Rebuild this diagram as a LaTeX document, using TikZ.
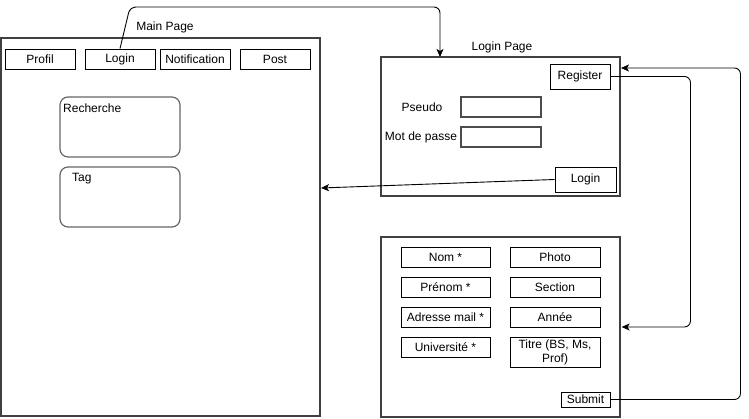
\documentclass[tikz,border=0pt]{standalone}
\usepackage{fontspec}
\setmainfont{Liberation Sans}
\usetikzlibrary{arrows.meta,shapes,positioning}

\begin{document}
\begin{tikzpicture}[x=1pt,y=-1pt,
    every node/.style={font=\fontsize{12}{14}\selectfont, inner sep=0pt},
    frame/.style={draw=black!75, line width=1.2pt},
    btn/.style={draw, line width=0.9pt, minimum height=20pt},
    field/.style={draw=black!70, line width=1.2pt, minimum width=80pt, minimum height=20pt},
    panel/.style={draw=black!60, line width=1.2pt, rounded corners=8pt, minimum width=120pt, minimum height=60pt},
    flow/.style={line width=0.9pt, rounded corners=6pt, -{Stealth[length=8pt,width=7pt,inset=2pt]}}]
      \useasboundingbox (0,0) rectangle (749,419);

      % main page
      \node[frame, minimum width=319pt, minimum height=378pt] (main) at (160.5,227) {};
      \node (maintitle) at (165,27) {Main Page};
      \node[btn, minimum width=70pt] (profil) at (40,59) {Profil};
      \node[btn, minimum width=70pt] (mlogin) at (120,59) {Login};
      \node[btn, minimum width=70pt] (notif) at (195,59) {Notification};
      \node[btn, minimum width=70pt] (post) at (275,59) {Post};
      \node[panel] (rech) at (120,127) {};
      \node[anchor=north west] (rechlabel) at (63,104) {Recherche};
      \node[panel] (tag) at (120,197) {};
      \node[anchor=north west] (taglabel) at (72,173) {Tag};

      % login page
      \node[frame, minimum width=239pt, minimum height=139pt] (lpage) at (500.5,126.5) {};
      \node (lptitle) at (502,47) {Login Page};
      \node[btn, minimum width=60pt, minimum height=25pt] (register) at (580,76.5) {Register};
      \node (pseudo) at (422,107) {Pseudo};
      \node[field] (pseudofield) at (501,107) {};
      \node (mdp) at (421,137) {Mot de passe};
      \node[field] (mdpfield) at (501,137) {};
      \node[btn, minimum width=61pt, minimum height=25pt] (llogin) at (585.5,179.5) {Login};

      % register form
      \node[frame, minimum width=239pt, minimum height=180pt] (regform) at (500.5,327) {};
      \node[btn, minimum width=89pt] (nom) at (445.5,257) {Nom *};
      \node[btn, minimum width=89pt] (prenom) at (445.5,287) {Prénom *};
      \node[btn, minimum width=89pt] (mail) at (445.5,317) {Adresse mail *};
      \node[btn, minimum width=89pt] (univ) at (445.5,347) {Université *};
      \node[btn, minimum width=90pt] (photo) at (555,257) {Photo};
      \node[btn, minimum width=90pt] (section) at (555,287) {Section};
      \node[btn, minimum width=90pt] (annee) at (555,317) {Année};
      \node[btn, minimum width=90pt, minimum height=30pt, align=center] (titre) at (555,352) {Titre (BS, Ms,\\Prof)};
      \node[btn, minimum width=49pt, minimum height=15pt] (submit) at (585.5,399.5) {Submit};

      % links
      \coordinate (lpentry) at (440,57);
      \coordinate (mainentry) at (321,188);
      \coordinate (lpside) at (621,68);
      \draw[flow] (mlogin.north) -- (130,7) -- (440,7) -- (lpentry); % to login page
      \draw[flow] (llogin.west) -- (mainentry); % back to main
      \draw[flow] (register.east) -- ++(80,0) |- ([xshift=1pt]regform.east); % to form
      \draw[flow] (submit.east) -- ++(130,0) |- (lpside); % back to login
\end{tikzpicture}
\end{document}
